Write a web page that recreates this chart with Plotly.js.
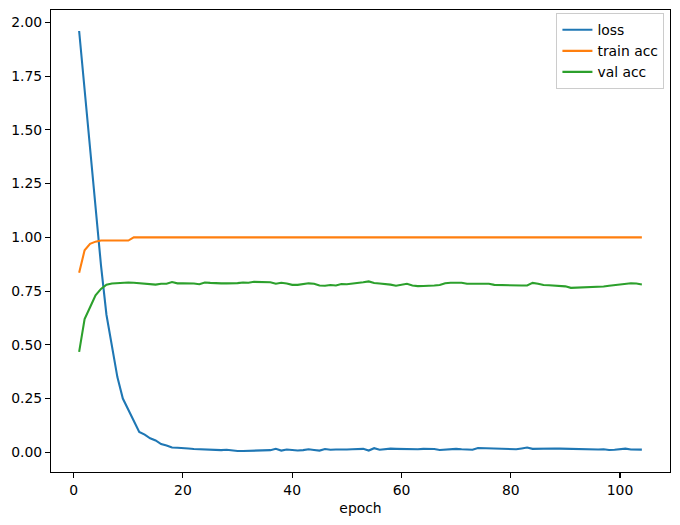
<!DOCTYPE html>
<html>
<head>
<meta charset="utf-8">
<script src="https://cdn.plot.ly/plotly-3.0.1.min.js"></script>
<style>
html,body{margin:0;padding:0;background:#fff;}
#chart{width:680px;height:525px;}
</style>
</head>
<body>
<div id="chart"></div>
<script>
var lossValues = [1.96,1.68,1.40,1.13,0.87,0.64,0.49,0.35,0.25,0.20,
0.148,0.095,0.082,0.065,0.055,0.038,0.032,0.022,0.021,0.021,
0.018,0.015,0.014,0.012,0.013,0.011,0.010,0.012,0.008,0.006,
0.006,0.007,0.008,0.010,0.009,0.010,0.016,0.008,0.013,0.009,
0.008,0.010,0.014,0.011,0.008,0.015,0.012,0.013,0.012,0.013,
0.014,0.015,0.016,0.008,0.019,0.012,0.015,0.017,0.016,0.015,
0.016,0.013,0.014,0.016,0.017,0.015,0.011,0.013,0.015,0.016,
0.014,0.013,0.012,0.020,0.019,0.018,0.018,0.017,0.018,0.017,
0.014,0.018,0.022,0.016,0.017,0.017,0.018,0.018,0.017,0.016,
0.016,0.015,0.014,0.013,0.012,0.013,0.014,0.011,0.012,0.016,
0.017,0.013,0.012,0.0125];

var trainAcc = [0.835,0.94,0.97,0.98,0.985,0.985,0.985,0.985,0.985,0.985];
for (var i = trainAcc.length; i < 104; i++) trainAcc.push(1.0);

var valAcc = [0.467,0.62,0.675,0.73,0.76,0.78,0.785,0.787,0.789,0.79,
0.789,0.787,0.786,0.781,0.78,0.784,0.784,0.792,0.786,0.786,
0.787,0.785,0.782,0.79,0.788,0.786,0.786,0.786,0.786,0.787,
0.79,0.789,0.793,0.792,0.791,0.791,0.784,0.789,0.785,0.779,
0.779,0.783,0.786,0.784,0.776,0.775,0.778,0.776,0.783,0.782,
0.784,0.788,0.791,0.795,0.788,0.785,0.783,0.78,0.775,0.778,
0.784,0.776,0.773,0.774,0.774,0.776,0.778,0.786,0.789,0.79,
0.789,0.784,0.784,0.784,0.783,0.784,0.779,0.778,0.776,0.776,
0.776,0.776,0.776,0.788,0.784,0.778,0.777,0.776,0.776,0.772,
0.765,0.766,0.767,0.768,0.768,0.769,0.771,0.775,0.778,0.779,
0.782,0.786,0.785,0.781];

var epochs = [];
for (var e = 1; e <= lossValues.length; e++) epochs.push(e);

var xTicks = [0,20,40,60,80,100];
var yTicks = [0,0.25,0.5,0.75,1.0,1.25,1.5,1.75,2.0];
var seriesNames = ['loss','train acc','val acc'];
var colors = ['#1f77b4','#ff7f0e','#2ca02c'];

var font = {family:'DejaVu Sans', size:13.9, color:'#000'};

var traces = [lossValues, trainAcc, valAcc].map(function(v, k){
  return {x: epochs, y: v, type:'scatter', mode:'lines', name: seriesNames[k],
          line:{color: colors[k], width:2.08}};
});

var axisCommon = {
  showline:true, mirror:true, linecolor:'#000', linewidth:1.1,
  ticks:'outside', ticklen:4.9, tickwidth:1.1, tickcolor:'#000',
  showgrid:false, zeroline:false, tickfont:font
};

var layout = {
  width:680, height:525,
  margin:{l:51, r:10, t:10, b:53, pad:0},
  paper_bgcolor:'#fff', plot_bgcolor:'#fff',
  font: font,
  showlegend:true,
  legend:{x:0.991, y:0.993, xanchor:'right', yanchor:'top',
          bgcolor:'rgba(255,255,255,0.8)', bordercolor:'#cccccc', borderwidth:1,
          font:font, itemwidth:30, tracegroupgap:0},
  xaxis: Object.assign({}, axisCommon, {
    range:[-4.15,109.15], tickvals:xTicks, ticktext:xTicks.map(String),
    title:{text:'epoch', font:font, standoff:6}
  }),
  yaxis: Object.assign({}, axisCommon, {
    range:[-0.0917,2.0577], tickvals:yTicks,
    ticktext:yTicks.map(function(t){return t.toFixed(2);})
  })
};

Plotly.newPlot('chart', traces, layout, {displayModeBar:false, staticPlot:true});
</script>
</body>
</html>
